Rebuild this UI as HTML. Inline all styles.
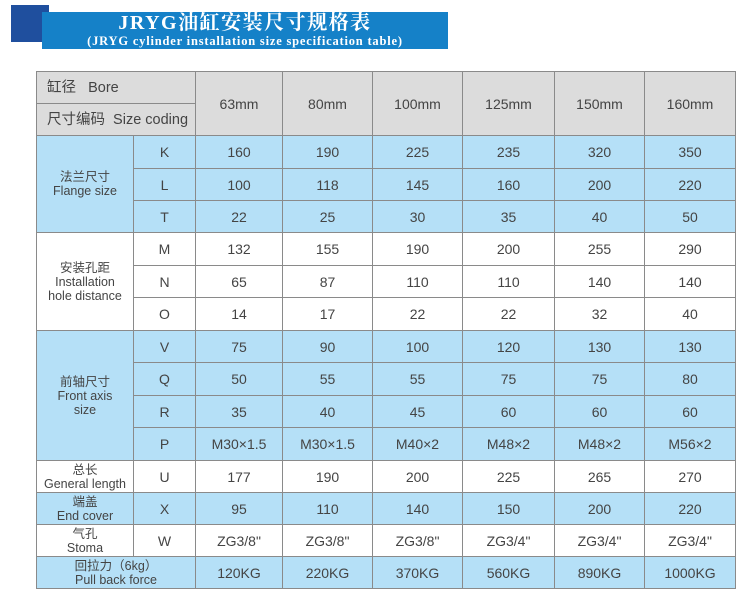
<!DOCTYPE html>
<html><head><meta charset="utf-8"><style>
body{margin:0;width:750px;height:603px;background:#fff;position:relative;overflow:hidden;font-family:"Liberation Sans","Noto Sans CJK SC",sans-serif;}
.dk{position:absolute;left:11px;top:5px;width:38px;height:37px;background:#1f4f9e;}
.bar{position:absolute;left:42px;top:12px;width:406px;height:37px;background:#1581c8;color:#fff;text-align:center;font-family:"Liberation Serif","Noto Serif CJK SC",serif;font-weight:bold;}
.t1{font-size:20px;line-height:21px;margin-top:1px;letter-spacing:1.5px}
.t2{font-size:12.5px;line-height:14px;letter-spacing:0.8px}
table{position:absolute;left:36px;top:71px;border-collapse:collapse;table-layout:fixed;font-size:14px;color:#444;}
td{border:1px solid #8a8a8a;text-align:center;padding:0;line-height:14px;}
.g td{background:#dcdcdc}
.b td{background:#b5e0f7}
.w td{background:#fff}
.l{text-align:left;padding-left:10px;font-size:14.5px}
.s{font-size:12.5px;line-height:14px}
</style></head><body>
<div class="dk"></div>
<div class="bar"><div class="t1">JRYG油缸安装尺寸规格表</div><div class="t2">(JRYG cylinder installation size specification table)</div></div>
<table>
<colgroup><col style="width:97px"><col style="width:62px"><col style="width:87px"><col style="width:90px"><col style="width:90px"><col style="width:92px"><col style="width:90px"><col style="width:91px"></colgroup>
<tr class="g" style="height:32px"><td colspan="2" class="l">缸径&nbsp;&nbsp;&nbsp;Bore</td><td rowspan="2">63mm</td><td rowspan="2">80mm</td><td rowspan="2">100mm</td><td rowspan="2">125mm</td><td rowspan="2">150mm</td><td rowspan="2">160mm</td></tr>
<tr class="g" style="height:32px"><td colspan="2" class="l">尺寸编码&nbsp; Size coding</td></tr>
<tr class="b" style="height:33px"><td rowspan="3" class="s">法兰尺寸<br>Flange size</td><td>K</td><td>160</td><td>190</td><td>225</td><td>235</td><td>320</td><td>350</td></tr>
<tr class="b" style="height:32px"><td>L</td><td>100</td><td>118</td><td>145</td><td>160</td><td>200</td><td>220</td></tr>
<tr class="b" style="height:32px"><td>T</td><td>22</td><td>25</td><td>30</td><td>35</td><td>40</td><td>50</td></tr>
<tr class="w" style="height:33px"><td rowspan="3" class="s">安装孔距<br>Installation<br>hole distance</td><td>M</td><td>132</td><td>155</td><td>190</td><td>200</td><td>255</td><td>290</td></tr>
<tr class="w" style="height:32px"><td>N</td><td>65</td><td>87</td><td>110</td><td>110</td><td>140</td><td>140</td></tr>
<tr class="w" style="height:33px"><td>O</td><td>14</td><td>17</td><td>22</td><td>22</td><td>32</td><td>40</td></tr>
<tr class="b" style="height:32px"><td rowspan="4" class="s">前轴尺寸<br>Front axis<br>size</td><td>V</td><td>75</td><td>90</td><td>100</td><td>120</td><td>130</td><td>130</td></tr>
<tr class="b" style="height:33px"><td>Q</td><td>50</td><td>55</td><td>55</td><td>75</td><td>75</td><td>80</td></tr>
<tr class="b" style="height:32px"><td>R</td><td>35</td><td>40</td><td>45</td><td>60</td><td>60</td><td>60</td></tr>
<tr class="b" style="height:33px"><td>P</td><td>M30×1.5</td><td>M30×1.5</td><td>M40×2</td><td>M48×2</td><td>M48×2</td><td>M56×2</td></tr>
<tr class="w" style="height:32px"><td class="s">总长<br>General length</td><td>U</td><td>177</td><td>190</td><td>200</td><td>225</td><td>265</td><td>270</td></tr>
<tr class="b" style="height:32px"><td class="s">端盖<br>End cover</td><td>X</td><td>95</td><td>110</td><td>140</td><td>150</td><td>200</td><td>220</td></tr>
<tr class="w" style="height:32px"><td class="s">气孔<br>Stoma</td><td>W</td><td>ZG3/8"</td><td>ZG3/8"</td><td>ZG3/8"</td><td>ZG3/4"</td><td>ZG3/4"</td><td>ZG3/4"</td></tr>
<tr class="b" style="height:32px"><td colspan="2" class="s">回拉力（6kg）<br>Pull back force</td><td>120KG</td><td>220KG</td><td>370KG</td><td>560KG</td><td>890KG</td><td>1000KG</td></tr>
</table>
</body></html>
